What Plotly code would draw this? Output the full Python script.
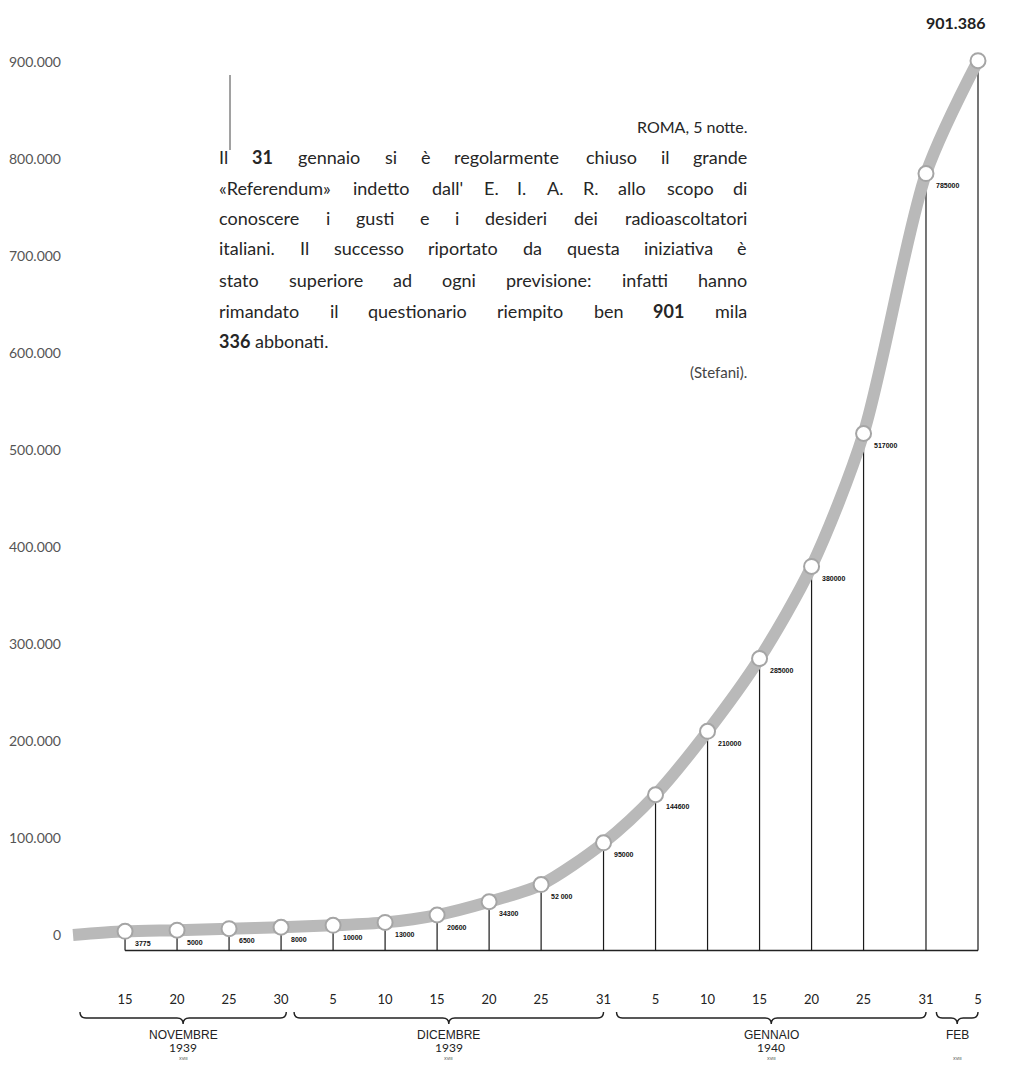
import plotly.graph_objects as go
import pandas as pd
import re

# ---------------- data ----------------
DATES = ["1939-11-15", "1939-11-20", "1939-11-25", "1939-11-30", "1939-12-05",
         "1939-12-10", "1939-12-15", "1939-12-20", "1939-12-25", "1939-12-31",
         "1940-01-05", "1940-01-10", "1940-01-15", "1940-01-20", "1940-01-25",
         "1940-01-31", "1940-02-05"]
VALUES = [3775, 5000, 6500, 8000, 10000, 13000, 20600, 34300, 52000, 95000,
          144600, 210000, 285000, 380000, 517000, 785000, 901386]
VALUE_LABELS = ["3775", "5000", "6500", "8000", "10000", "13000", "20600", "34300",
                "52 000", "95000", "144600", "210000", "285000", "380000", "517000",
                "785000"]
FINAL_LABEL = "901.386"
DAY_LABELS = ["15", "20", "25", "30", "5", "10", "15", "20", "25", "31",
              "5", "10", "15", "20", "25", "31", "5"]
START_DATE = "1939-11-10"
START_VALUE = 0

Y_TICKS = [0, 100000, 200000, 300000, 400000, 500000, 600000, 700000, 800000, 900000]
Y_TICK_TEXT = ["0", "100.000", "200.000", "300.000", "400.000", "500.000",
               "600.000", "700.000", "800.000", "900.000"]

MONTHS = ["NOVEMBRE", "DICEMBRE", "GENNAIO", "FEB"]
MONTH_YEARS = ["1939", "1939", "1940", ""]
MONTH_START = ["1939-11-10 16:00", "1939-12-01 06:00", "1940-01-01 06:00", "1940-02-01"]
MONTH_END = ["1939-11-30 12:00", "1939-12-31", "1940-01-31", "1940-02-05"]
ERA = "XVIII"

DATELINE = "ROMA, 5 notte."
PARAGRAPH = [
    "Il <b>31</b> gennaio si è regolarmente chiuso il grande",
    "«Referendum» indetto dall' E. I. A. R. allo scopo di",
    "conoscere i gusti e i desideri dei radioascoltatori",
    "italiani. Il successo riportato da questa iniziativa è",
    "stato superiore ad ogni previsione: infatti hanno",
    "rimandato il questionario riempito ben <b>901</b> mila",
    "<b>336</b> abbonati.",
]
SOURCE = "(Stefani)."

# ---------------- geometry (screen pixels; page body has an 8px margin) ----------------
OFF = 8
SCR_W, SCR_H = 1034, 1068
PLOT_L, PLOT_R, PLOT_T, PLOT_B = 70, 1004, 10, 956
W, H = SCR_W - OFF, SCR_H - OFF
ML, MR, MT, MB = PLOT_L - OFF, SCR_W - PLOT_R, PLOT_T - OFF, SCR_H - PLOT_B
X_RANGE = ["1939-11-09 17:00", "1940-02-07 12:00"]
Y_RANGE = [-21649, 953608]
Y_BASE = -16000


def px(x):
    return (x - PLOT_L) / (PLOT_R - PLOT_L)


def py(y):
    return (PLOT_B - y) / (PLOT_B - PLOT_T)


def dstr(ts):
    return pd.Timestamp(ts).strftime("%Y-%m-%d_%H:%M:%S")


TEXT_FONT = "Lato, 'Open Sans', sans-serif"
INK = "#262626"
PARA_SIZE = 18
PARA_LEFT, PARA_RIGHT = 218, 748

# approximate Lato advance widths (em)
CW = {c: 0.55 for c in "bdhnopqu"}
CW.update({"a": .50, "c": .45, "e": .51, "è": .51, "f": .32, "g": .50, "i": .24, "j": .24,
           "k": .50, "l": .24, "m": .82, "r": .36, "s": .42, "t": .35, "v": .50, "w": .76,
           "x": .48, "y": .50, "z": .45, "I": .27, "R": .57, "E": .51, "A": .65,
           ".": .21, ",": .21, ":": .22, "'": .18, "«": .42, "»": .42, "(": .30, ")": .30})
for dgt in "0123456789":
    CW[dgt] = .58


def word_width(tok):
    bold = "<b>" in tok
    plain = re.sub(r"<[^>]+>", "", tok)
    w = sum(CW.get(ch, .58) for ch in plain) * PARA_SIZE * 1.04
    return w * (1.04 if bold else 1.0)


fig = go.Figure()

# baseline
fig.add_trace(go.Scatter(x=[DATES[0], DATES[-1]], y=[Y_BASE, Y_BASE], mode="lines",
                         line=dict(color="#222", width=1.3), hoverinfo="skip"))

# drop lines
dx, dy = [], []
for d, v in zip(DATES, VALUES):
    dx += [d, d, None]
    dy += [Y_BASE, v, None]
fig.add_trace(go.Scatter(x=dx, y=dy, mode="lines",
                         line=dict(color="#1a1a1a", width=1.2), hoverinfo="skip"))

# ribbon
fig.add_trace(go.Scatter(x=[START_DATE] + DATES, y=[START_VALUE] + VALUES, mode="lines",
                         line=dict(color="#b9b9b9", width=12, shape="spline", smoothing=0.8),
                         hoverinfo="skip"))

# circles
fig.add_trace(go.Scatter(x=DATES, y=VALUES, mode="markers",
                         marker=dict(size=15, color="white",
                                     line=dict(color="#a5a5a5", width=2)),
                         hoverinfo="skip"))

annotations = []
# value labels
for d, v, t in zip(DATES, VALUES, VALUE_LABELS):
    annotations.append(dict(x=d, y=v, xref="x", yref="y", text=t, showarrow=False,
                            xanchor="left", yanchor="middle", xshift=8, yshift=-12,
                            font=dict(family="'Liberation Sans Narrow', 'Liberation Sans', sans-serif",
                                      size=7, color="#111", weight="bold")))
# final big label
annotations.append(dict(x=px(955), y=py(22), xref="paper", yref="paper", text=f"<b>{FINAL_LABEL}</b>",
                        showarrow=False, xanchor="center", yanchor="middle",
                        font=dict(family=TEXT_FONT, size=16, color="#222")))

# text block
annotations.append(dict(x=px(PARA_RIGHT), y=py(127), xref="paper", yref="paper", text=DATELINE,
                        showarrow=False, xanchor="right", yanchor="middle", borderpad=0,
                        font=dict(family=TEXT_FONT, size=16, color=INK)))
line_y = [157, 188, 218, 248, 280, 311, 341]
for i, (t, yy) in enumerate(zip(PARAGRAPH, line_y)):
    toks = t.split(" ")
    if i == len(PARAGRAPH) - 1:
        annotations.append(dict(x=px(PARA_LEFT), y=py(yy), xref="paper", yref="paper", text=t,
                                showarrow=False, xanchor="left", yanchor="middle", borderpad=0,
                                font=dict(family=TEXT_FONT, size=PARA_SIZE, color=INK)))
        continue
    widths = [word_width(tk) for tk in toks]
    gap = (PARA_RIGHT - PARA_LEFT - sum(widths)) / (len(toks) - 1)
    xpos = PARA_LEFT
    for j, (tk, wd) in enumerate(zip(toks, widths)):
        if j == len(toks) - 1:
            ax, anc = PARA_RIGHT, "right"
        else:
            ax, anc = xpos, "left"
        annotations.append(dict(x=px(ax), y=py(yy), xref="paper", yref="paper", text=tk,
                                showarrow=False, xanchor=anc, yanchor="middle", borderpad=0,
                                font=dict(family=TEXT_FONT, size=PARA_SIZE, color=INK)))
        xpos += wd + gap
annotations.append(dict(x=px(PARA_RIGHT), y=py(372), xref="paper", yref="paper", text=SOURCE,
                        showarrow=False, xanchor="right", yanchor="middle", borderpad=0,
                        font=dict(family=TEXT_FONT, size=15, color="#444")))

# month braces and labels
shapes = []
y_top, y_mid, y_bot = py(1012), py(1018), py(1024)
for m, yr, a, b in zip(MONTHS, MONTH_YEARS, MONTH_START, MONTH_END):
    ta, tb = pd.Timestamp(a), pd.Timestamp(b)
    c = ta + (tb - ta) / 2
    h = pd.Timedelta(hours=14)
    path = (f"M{dstr(ta)},{y_top} Q{dstr(ta)},{y_mid} {dstr(ta + h)},{y_mid} "
            f"L{dstr(c - h)},{y_mid} Q{dstr(c)},{y_mid} {dstr(c)},{y_bot} "
            f"Q{dstr(c)},{y_mid} {dstr(c + h)},{y_mid} "
            f"L{dstr(tb - h)},{y_mid} Q{dstr(tb)},{y_mid} {dstr(tb)},{y_top}")
    shapes.append(dict(type="path", xref="x", yref="paper", path=path,
                       line=dict(color="#222", width=1.4)))
    annotations.append(dict(x=c, y=py(1035), xref="x", yref="paper", text=m,
                            showarrow=False, xanchor="center", yanchor="middle",
                            font=dict(family="'Liberation Sans Narrow', 'Liberation Sans', sans-serif",
                                      size=12, color="#222")))
    if yr:
        annotations.append(dict(x=c, y=py(1047), xref="x", yref="paper", text=yr,
                                showarrow=False, xanchor="center", yanchor="middle",
                                font=dict(family=TEXT_FONT, size=12, color="#222")))
    annotations.append(dict(x=c, y=py(1058), xref="x", yref="paper", text=ERA,
                            showarrow=False, xanchor="center", yanchor="middle",
                            font=dict(family="'Liberation Sans'", size=4, color="#333")))

# stray printing mark (vertical rule at top of text block)
shapes.append(dict(type="line", xref="paper", yref="paper", x0=px(230), x1=px(230),
                   y0=py(75), y1=py(150), line=dict(color="#444", width=1)))

fig.update_layout(
    width=W, height=H,
    margin=dict(l=ML, r=MR, t=MT, b=MB),
    paper_bgcolor="white", plot_bgcolor="white",
    showlegend=False,
    annotations=annotations, shapes=shapes,
    xaxis=dict(type="date", range=X_RANGE, tickvals=DATES, ticktext=DAY_LABELS,
               showgrid=False, zeroline=False, showline=False, ticks="",
               ticklabelstandoff=34,
               tickfont=dict(family=TEXT_FONT, size=13, color="#222")),
    yaxis=dict(range=Y_RANGE, tickvals=Y_TICKS, ticktext=Y_TICK_TEXT,
               showgrid=False, zeroline=False, showline=False, ticks="",
               ticklabelstandoff=8,
               tickfont=dict(family=TEXT_FONT, size=14, color="#555")),
)

fig.write_html("out.html")
